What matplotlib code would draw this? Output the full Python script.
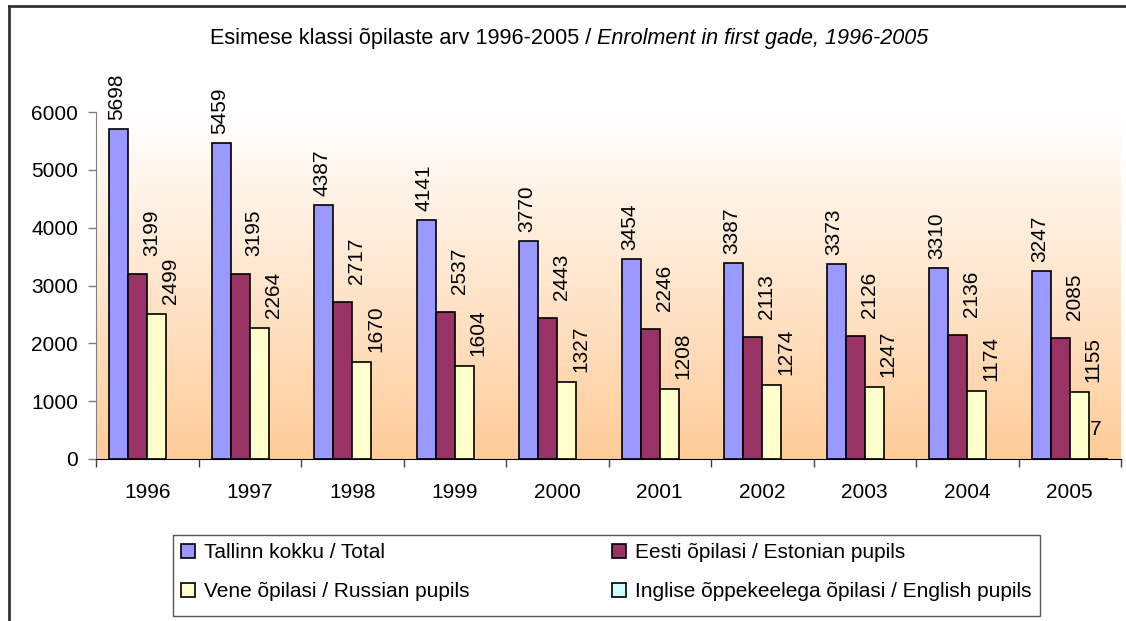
import numpy as np
import matplotlib
matplotlib.use("Agg")
import matplotlib.pyplot as plt
from matplotlib.patches import Rectangle
from matplotlib.lines import Line2D
from matplotlib.colors import LinearSegmentedColormap

# ---------------- data ----------------
years = ["1996", "1997", "1998", "1999", "2000", "2001", "2002", "2003", "2004", "2005"]
total = [5698, 5459, 4387, 4141, 3770, 3454, 3387, 3373, 3310, 3247]
estonian = [3199, 3195, 2717, 2537, 2443, 2246, 2113, 2126, 2136, 2085]
russian = [2499, 2264, 1670, 1604, 1327, 1208, 1274, 1247, 1174, 1155]
english = [None, None, None, None, None, None, None, None, None, 7]
series_names = ["Tallinn kokku / Total", "Eesti õpilasi / Estonian pupils",
                "Vene õpilasi / Russian pupils", "Inglise õppekeelega õpilasi / English pupils"]
y_ticks = [0, 1000, 2000, 3000, 4000, 5000, 6000]

# ---------------- style ----------------
colors = ["#9999FF", "#993366", "#FFFFCC", "#CCFFFF"]
label_dx_px = [-2, 14, 14, -3]     # Excel-like label placement quirks
label_gap_px = [9, 18, 10, 20]
FS = 15
plt.rcParams['font.family'] = ['Liberation Sans', 'DejaVu Sans']

W, H = 1126, 621
fig = plt.figure(figsize=(W / 100, H / 100), dpi=100)
fig.patch.set_facecolor("white")

L, R, T, B = 96, 1121, 112, 459
ax = fig.add_axes([L / W, 1 - B / H, (R - L) / W, (B - T) / H])

n = len(years)
x = np.arange(n)
ax.set_xlim(-0.5, n - 0.5)
ax.set_ylim(0, 6000)

# gradient background
cmap = LinearSegmentedColormap.from_list("bg", ["#FFCC99", "#FFFFFF"])
grad = np.linspace(0, 1, 256).reshape(-1, 1)
ax.imshow(grad, extent=[-0.5, n - 0.5, 0, 6000], origin="lower",
          aspect="auto", cmap=cmap, zorder=0)

bw = 19 / ((R - L) / n)
all_series = [total, estonian, russian, english]
handles = []
for i, (vals, col) in enumerate(zip(all_series, colors)):
    xs = [xi + (i - 1.5) * bw for xi, v in zip(x, vals) if v is not None]
    vs = [v for v in vals if v is not None]
    ax.bar(xs, vs, width=bw, color=col, edgecolor="black",
           linewidth=1.2, zorder=2)
    for bx, v in zip(xs, vs):
        rot = 90 if v >= 10 else 0
        ax.annotate(str(v), xy=(bx, v),
                    xytext=(label_dx_px[i] * 0.72, label_gap_px[i] * 0.72),
                    textcoords="offset points", ha="center", va="bottom",
                    rotation=rot, fontsize=FS, color="black", zorder=3)
    handles.append(Rectangle((0, 0), 1, 1, facecolor=col, edgecolor="black",
                             linewidth=1.2))

# axes styling
for s in ["top", "right"]:
    ax.spines[s].set_visible(False)
ax.spines["left"].set_color("#808080")
ax.spines["bottom"].set_color("#000000")
ax.set_yticks(y_ticks)
ax.set_yticklabels([str(t) for t in y_ticks])
ax.tick_params(axis="y", direction="out", length=6, width=1, color="#808080",
               labelsize=FS, pad=7)
ax.set_xticks(x)
ax.set_xticklabels(years)
ax.tick_params(axis="x", which="major", length=0, labelsize=FS, pad=17)
ax.set_xticks(np.arange(n + 1) - 0.5, minor=True)
ax.tick_params(axis="x", which="minor", direction="out", length=6, width=1,
               color="#404040")

# title (normal + italic part)
TFS = 15.6
t1 = fig.text(210 / W, 1 - 44 / H, "Esimese klassi õpilaste arv 1996-2005 / ",
              fontsize=TFS, ha="left", va="baseline")
fig.canvas.draw()
bb = t1.get_window_extent()
fig.text(bb.x1 / W, 1 - 44 / H, "Enrolment in first gade, 1996-2005",
         fontsize=TFS, ha="left", va="baseline", style="italic")

# legend (frame drawn separately to match box size)
lx0, lx1, ly0, ly1 = 173, 1040, 535, 616
fig.add_artist(Rectangle((lx0 / W, 1 - ly1 / H), (lx1 - lx0) / W, (ly1 - ly0) / H,
                         transform=fig.transFigure, facecolor="white",
                         edgecolor="#555555", linewidth=1, zorder=1))
order = [0, 2, 1, 3]
leg = fig.legend([handles[k] for k in order], [series_names[k] for k in order],
                 ncol=2, loc="upper left",
                 bbox_to_anchor=(lx0 / W, 1 - ly1 / H, (lx1 - lx0) / W, (ly1 - ly0) / H),
                 mode="expand", borderaxespad=0, fontsize=FS, frameon=False,
                 borderpad=0.4, handlelength=0.65, handleheight=0.65,
                 handletextpad=0.45, labelspacing=0.95)
leg.set_zorder(2)

# outer chart border (left and top visible)
fig.add_artist(Line2D([8.5 / W, 8.5 / W], [0, 1 - 6 / H], color="#333333",
                      linewidth=2, transform=fig.transFigure))
fig.add_artist(Line2D([8.5 / W, 1], [1 - 6 / H, 1 - 6 / H], color="#333333",
                      linewidth=2, transform=fig.transFigure))

fig.savefig("out.png", dpi=100)
